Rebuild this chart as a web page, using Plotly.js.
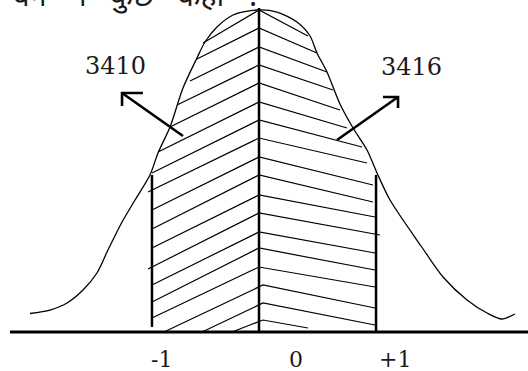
<!DOCTYPE html>
<html><head><meta charset="utf-8">
<script src="https://cdn.plot.ly/plotly-3.0.1.min.js"></script>
<style>html,body{margin:0;padding:0;background:#fff;overflow:hidden}</style>
</head><body><div id="chart" style="width:528px;height:371px"></div>
<script>
// Hand-drawn normal curve: x in sigma units (0 = mean), y in % of peak height
const curveZ = [-2.082,-1.900,-1.745,-1.600,-1.473,-1.373,-1.245,-1.127,-0.991,-0.918,-0.809,-0.691,-0.564,-0.491,-0.382,-0.236,-0.018,
                0.164,0.345,0.464,0.527,0.618,0.736,0.855,0.982,1.073,1.191,1.473,1.673,1.891,2.073,2.209,2.327];
const curveH = [5.75,6.83,9.01,13.04,18.32,25.47,34.16,40.99,48.76,55.59,63.66,75.78,85.09,90.06,94.72,98.45,100.0,
                99.38,96.27,91.93,86.65,80.75,70.81,63.35,56.52,49.38,40.99,26.71,17.08,9.94,5.90,4.04,5.59];

// Boundaries at -1, 0, +1 sigma
const boundZ = [-0.973, 0, 1.064];
const boundBottom = [1.55, 0, 0];
const boundTop = [48.76, 100.6, 48.76];

// Hatch lines (chevrons meeting at the mean line)
const hatchJoinH = [100.0,94.41,88.51,82.92,77.33,71.43,65.84,60.25,54.35,48.76,42.55,36.96,31.06,26.09,20.19,14.60,9.01,3.73];
const hatchJoinZ = [0,0,0,0,0,0,0,0,0,0,0,0,0,0,0,0.036,0.036,0.036];
const leftHatchZ = [-0.509,-0.564,-0.627,-0.745,-0.809,-0.918,-0.973,-1.009,-0.973,-0.973,-0.973,-1.009,-0.973,-0.973,-0.973,-0.864,-0.518,-0.245];
const leftHatchH = [89.75,84.78,77.95,70.50,63.66,55.90,49.38,43.48,37.89,31.99,26.09,19.57,14.60,9.32,4.35,0,0,0];
const rightHatchZ = [0.445,0.527,0.618,0.673,0.736,0.800,0.936,0.982,1.036,1.036,1.055,1.100,1.055,1.055,1.055,1.055,1.055,0.445];
const rightHatchH = [91.93,86.65,80.75,75.16,68.94,63.35,57.45,52.48,45.65,40.37,35.71,30.12,24.53,19.25,13.98,7.45,2.17,1.24];

// Area labels with arrows
const areaLabels = ['3410', '3416'];
const areaLabelZ = [-1.309, 1.382];
const areaLabelH = [82.6, 82.3];
const arrowShaftZ = [-0.691, 0.709];
const arrowShaftH = [60.87, 59.63];
const arrowTipZ = [-1.245, 1.264];
const arrowTipH = [74.22, 72.98];
const arrowArmZ = [-1.055, 1.127];
const arrowArmH = [70.19, 69.57];

// Axis labels
const tickLabels = ['-1', '0', '+1'];
const tickLabelZ = [-0.882, 0.336, 1.236];
const tickLabelH = -8.4;

// Cropped heading text (only its lower part is visible)
const headingWords = ['वर्ग', 'न', 'कुछ', 'कहा', '?'];

const baseZ = [-2.264, 2.6];

const black = '#000';
const traces = [];

traces.push({x: curveZ, y: curveH, mode: 'lines', line: {color: black, width: 1.3, shape: 'spline', smoothing: 0.8}});

// hatch
const hx = [], hy = [];
for (let i = 0; i < hatchJoinH.length; i++) {
  hx.push(leftHatchZ[i], hatchJoinZ[i], rightHatchZ[i], null);
  hy.push(leftHatchH[i], hatchJoinH[i], rightHatchH[i], null);
}
traces.push({x: hx, y: hy, mode: 'lines', line: {color: black, width: 1.2}});

// boundaries
const bx = [], by = [];
for (let i = 0; i < boundZ.length; i++) {
  bx.push(boundZ[i], boundZ[i], null);
  by.push(boundBottom[i], boundTop[i], null);
}
traces.push({x: bx, y: by, mode: 'lines', line: {color: black, width: 2.5}});

// baseline
traces.push({x: baseZ, y: [0, 0], mode: 'lines', line: {color: black, width: 3}});

// arrows
const ax = [], ay = [];
for (let i = 0; i < 2; i++) {
  ax.push(arrowShaftZ[i], arrowTipZ[i], null, arrowArmZ[i], arrowTipZ[i], arrowTipZ[i], null);
  ay.push(arrowShaftH[i], arrowTipH[i], null, arrowTipH[i], arrowTipH[i], arrowArmH[i], null);
}
traces.push({x: ax, y: ay, mode: 'lines', line: {color: black, width: 2.6}});

const font = {family: 'DejaVu Serif', size: 22, color: '#1a1a1a'};
const annotations = [];
for (let i = 0; i < areaLabels.length; i++) {
  annotations.push({x: areaLabelZ[i], y: areaLabelH[i], xref: 'x', yref: 'y', text: areaLabels[i], showarrow: false,
    font: {family: 'DejaVu Serif', size: 24, color: '#1a1a1a'}});
}
for (let i = 0; i < tickLabels.length; i++) {
  annotations.push({x: tickLabelZ[i], y: tickLabelH, xref: 'x', yref: 'y', text: tickLabels[i], showarrow: false, font: font});
}
const gap = '\u00a0\u00a0\u00a0';
annotations.push({x: 0.02, y: 1, xref: 'paper', yref: 'paper', xanchor: 'left', yanchor: 'middle', yshift: 6,
  text: headingWords.join(gap), showarrow: false, font: {family: 'Noto Sans, DejaVu Sans', size: 30, color: '#1a1a1a'}});

const layout = {
  width: 528, height: 371,
  margin: {l: 0, r: 0, t: 0, b: 0},
  paper_bgcolor: '#fff', plot_bgcolor: '#fff',
  showlegend: false,
  xaxis: {range: [-2.3545, 2.4455], visible: false, fixedrange: true},
  yaxis: {range: [-12.11, 103.11], visible: false, fixedrange: true},
  annotations: annotations
};
Plotly.newPlot('chart', traces, layout, {displayModeBar: false, staticPlot: true});
</script></body></html>
